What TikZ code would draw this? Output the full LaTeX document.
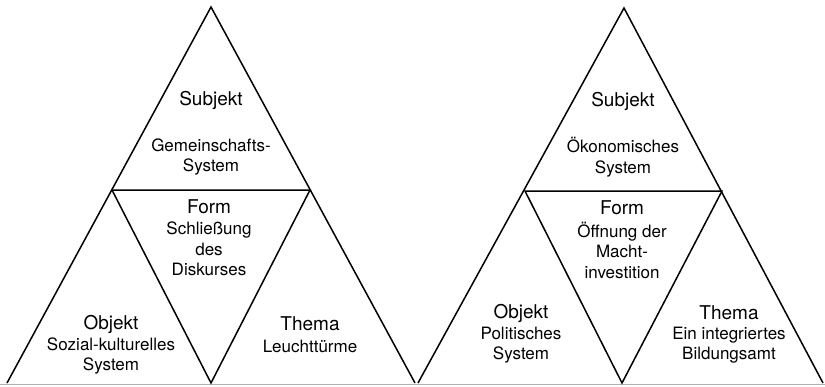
\documentclass[tikz,border=0pt]{standalone}
\usepackage{fontspec}
\setmainfont{TeX Gyre Heros}
\begin{document}
\begin{tikzpicture}[x=1pt,y=-1pt,
  edge/.style={line width=1.5pt, line join=miter},
  baseline rule/.style={line width=1.5pt, draw=black!30},
  head/.style={font=\fontsize{19}{22}\selectfont, inner sep=0pt},
  body/.style={font=\fontsize{17}{20.5}\selectfont, align=center, inner sep=0pt}]
\useasboundingbox (0,0) rectangle (825,386);

% ---- left pyramid: corners ----
\coordinate (LA) at (211,7);
\coordinate (LL) at (7,383);
\coordinate (LR) at (415,383);
\coordinate (LM) at (211,383);
\coordinate (LML) at (112,190);
\coordinate (LMR) at (310,190);

% ---- right pyramid: corners ----
\coordinate (RA) at (624,8);
\coordinate (RL) at (418,383);
\coordinate (RR) at (823,383);
\coordinate (RM) at (622,383);
\coordinate (RML) at (525,191);
\coordinate (RMR) at (722,191);

% base rule
\coordinate (B0) at (0,384.5);
\coordinate (B1) at (825,384.5);
\draw[baseline rule] (B0) -- (B1);

% outlines
\draw[edge] (LL) -- (LA) -- (LR);
\draw[edge] (LML) -- (LMR) -- (LM) -- cycle;
\draw[edge] (RL) -- (RA) -- (RR);
\draw[edge] (RML) -- (RMR) -- (RM) -- cycle;

% ---- left labels ----
\node[head] (lsubj) at (211,100) {Subjekt};
\node[body] (lsubjt) at (211,157) {Gemeinschafts-\\System};
\node[head] (lform) at (209,207) {Form};
\node[body] (lformt) at (209,249) {Schließung\\des\\Diskurses};
\node[head] (lobj) at (111,324) {Objekt};
\node[body] (lobjt) at (111,356) {Sozial-kulturelles\\System};
\node[head] (lthem) at (310,324) {Thema};
\node[body] (lthemt) at (310,346) {Leuchttürme};

% ---- right labels ----
\node[head] (rsubj) at (623,101) {Subjekt};
\node[body] (rsubjt) at (623,157) {Ökonomisches\\System};
\node[head] (rform) at (622,208) {Form};
\node[body] (rformt) at (622,250) {Öffnung der\\Macht-\\investition};
\node[head] (robj) at (521,313) {Objekt};
\node[body] (robjt) at (521,345) {Politisches\\System};
\node[head] (rthem) at (729,313) {Thema};
\node[body] (rthemt) at (729,345) {Ein integriertes\\Bildungsamt};
\end{tikzpicture}
\end{document}
